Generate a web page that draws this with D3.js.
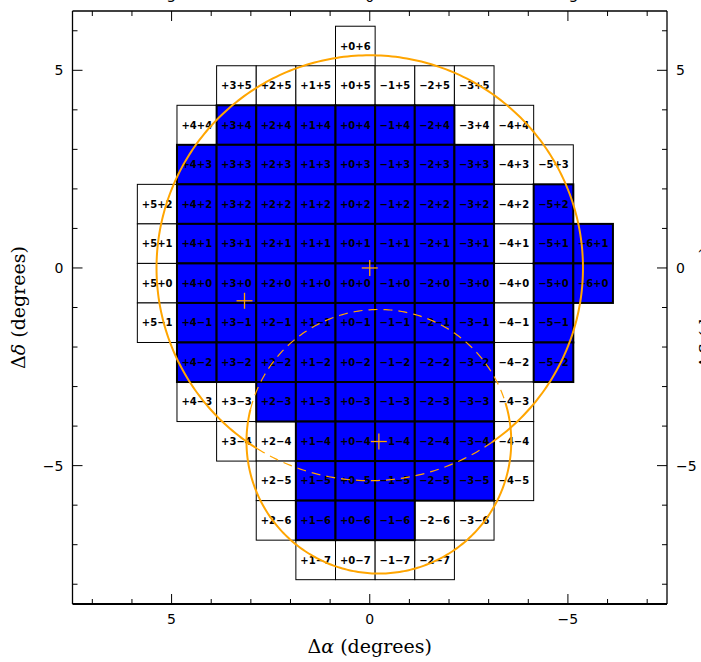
<!DOCTYPE html>
<html>
<head>
<meta charset="utf-8">
<script src="https://cdn.jsdelivr.net/npm/d3@7"></script>
<style>
  html, body { margin: 0; padding: 0; background: #fff; }
  svg { display: block; }
</style>
</head>
<body>
<svg id="chart" width="701" height="662"></svg>
<script>
// Survey tiles: row index (Δδ) and the first/last column index (Δα) in each row
const rowIndex    = [6, 5, 4, 3, 2, 1, 0, -1, -2, -3, -4, -5, -6, -7];
const rowFirstCol = [0, 3, 4, 4, 5, 5, 5, 5, 4, 4, 3, 2, 2, 1];
const rowLastCol  = [0, -3, -4, -5, -5, -6, -6, -5, -5, -4, -4, -4, -3, -2];
// Columns of the tiles already observed (filled) in each row
const rowFilledCols = [
  [],
  [],
  [3, 2, 1, 0, -1, -2],
  [4, 3, 2, 1, 0, -1, -2, -3],
  [4, 3, 2, 1, 0, -1, -2, -3, -5],
  [4, 3, 2, 1, 0, -1, -2, -3, -5, -6],
  [4, 3, 2, 1, 0, -1, -2, -3, -5, -6],
  [4, 3, 2, 1, 0, -1, -2, -3, -5],
  [4, 3, 2, 1, 0, -1, -2, -3, -5],
  [2, 1, 0, -1, -2, -3],
  [1, 0, -1, -2, -3],
  [1, 0, -1, -2, -3],
  [1, 0, -1],
  []
];

// Field circles: centre (Δα, Δδ) and radius, degrees
const circleCx = [0.0, -0.23];
const circleCy = [0.0, -4.39];
const circleR  = [5.38, 3.34];
// Position angle range (degrees) of the part of each circle lying inside the other field
const overlapFrom = [-125, 14];
const overlapTo   = [-58, 163];

// Pointing centres
const markAlpha = [0.0, 3.16, -0.23];
const markDelta = [0.0, -0.83, -4.39];

// Axis ticks
const majorTicks  = [-5, 0, 5];
const minorTicksX = d3.range(-7, 8);
const minorTicksY = d3.range(-8, 7);

// Tile geometry (degrees): tile (k, n) is a 1° square centred at (k + 0.364, n - 0.385)
const tileSide = 1.0;
const tileShift = [0.364, -0.385];

const W = 701, H = 662;
const plot = { left: 72.5, right: 667, top: 11, bottom: 604 };
const blue = "#0000ff";
const orange = "#ffa500";

const svg = d3.select("#chart");
svg.append("rect").attr("width", W).attr("height", H).attr("fill", "#fff");

const x = d3.scaleLinear().domain([7.5, -7.5]).range([plot.left, plot.right]);
const y = d3.scaleLinear().domain([-8.5, 6.5]).range([plot.bottom, plot.top]);

const signed = v => (v < 0 ? "\u2212" : "+") + Math.abs(v);
const tickFmt = v => (v < 0 ? "\u2212" + (-v) : String(v));

// Build the tile list
const tiles = [];
rowIndex.forEach((n, i) => {
  for (let k = rowFirstCol[i]; k >= rowLastCol[i]; k--) {
    tiles.push({ k, n, filled: rowFilledCols[i].includes(k) });
  }
});

const tileRect = sel => sel
  .attr("x", d => x(d.k + tileShift[0] + tileSide / 2))
  .attr("y", d => y(d.n + tileShift[1] + tileSide / 2))
  .attr("width", d => x(d.k + tileShift[0] - tileSide / 2) - x(d.k + tileShift[0] + tileSide / 2))
  .attr("height", d => y(d.n + tileShift[1] - tileSide / 2) - y(d.n + tileShift[1] + tileSide / 2));

const gTiles = svg.append("g");
gTiles.selectAll("rect.open")
  .data(tiles.filter(d => !d.filled))
  .join("rect").attr("class", "open")
  .call(tileRect)
  .attr("fill", "#fff").attr("stroke", "#000").attr("stroke-width", 1);

gTiles.selectAll("rect.done")
  .data(tiles.filter(d => d.filled))
  .join("rect").attr("class", "done")
  .call(tileRect)
  .attr("fill", blue).attr("stroke", "#000").attr("stroke-width", 2);

gTiles.selectAll("text")
  .data(tiles)
  .join("text")
  .attr("x", d => x(d.k + tileShift[0]))
  .attr("y", d => y(d.n + tileShift[1]))
  .attr("dy", "0.36em")
  .attr("text-anchor", "middle")
  .attr("font-family", "DejaVu Sans, sans-serif")
  .attr("font-weight", "bold")
  .attr("font-size", 10)
  .attr("fill", "#000")
  .text(d => signed(d.k) + signed(d.n));

// Circle arcs: solid outside the other field, dashed inside it
const arcLine = d3.line().x(p => x(p[0])).y(p => y(p[1]));
function arcPoints(i, a0, a1) {
  const steps = Math.max(8, Math.ceil(Math.abs(a1 - a0)));
  return d3.range(steps + 1).map(s => {
    const t = (a0 + (a1 - a0) * s / steps) * Math.PI / 180;
    return [circleCx[i] + circleR[i] * Math.cos(t), circleCy[i] + circleR[i] * Math.sin(t)];
  });
}
const gCircles = svg.append("g").attr("fill", "none");
circleCx.forEach((_, i) => {
  gCircles.append("path")
    .attr("d", arcLine(arcPoints(i, overlapTo[i], overlapFrom[i] + 360)))
    .attr("stroke", orange).attr("stroke-width", 2);
  gCircles.append("path")
    .attr("d", arcLine(arcPoints(i, overlapFrom[i], overlapTo[i])))
    .attr("stroke", orange).attr("stroke-width", 1.2)
    .attr("stroke-dasharray", "9,6");
});

// Pointing-centre crosses
const gMarks = svg.append("g").attr("stroke", orange).attr("stroke-width", 1.3);
markAlpha.forEach((a, i) => {
  const cx = x(a), cy = y(markDelta[i]);
  gMarks.append("line").attr("x1", cx - 8).attr("x2", cx + 8).attr("y1", cy).attr("y2", cy);
  gMarks.append("line").attr("x1", cx).attr("x2", cx).attr("y1", cy - 8).attr("y2", cy + 8);
});

// Frame and ticks
const gAxes = svg.append("g").attr("stroke", "#000");
gAxes.append("line").attr("x1", plot.left).attr("x2", plot.right).attr("y1", plot.top).attr("y2", plot.top).attr("stroke-width", 1.3);
gAxes.append("line").attr("x1", plot.left).attr("x2", plot.right).attr("y1", plot.bottom).attr("y2", plot.bottom).attr("stroke-width", 2.2);
gAxes.append("line").attr("x1", plot.left).attr("x2", plot.left).attr("y1", plot.top).attr("y2", plot.bottom).attr("stroke-width", 1.3);
gAxes.append("line").attr("x1", plot.right).attr("x2", plot.right).attr("y1", plot.top).attr("y2", plot.bottom).attr("stroke-width", 1.3);

const tickLen = v => (majorTicks.includes(v) ? 10 : 5);
minorTicksX.forEach(v => {
  const px = x(v);
  gAxes.append("line").attr("x1", px).attr("x2", px).attr("y1", plot.bottom).attr("y2", plot.bottom - tickLen(v)).attr("stroke-width", 1);
  gAxes.append("line").attr("x1", px).attr("x2", px).attr("y1", plot.top).attr("y2", plot.top + tickLen(v)).attr("stroke-width", 1);
});
minorTicksY.forEach(v => {
  const py = y(v);
  gAxes.append("line").attr("x1", plot.left).attr("x2", plot.left + tickLen(v)).attr("y1", py).attr("y2", py).attr("stroke-width", 1);
  gAxes.append("line").attr("x1", plot.right).attr("x2", plot.right - tickLen(v)).attr("y1", py).attr("y2", py).attr("stroke-width", 1);
});

// Tick labels on all four sides
const gLabels = svg.append("g")
  .attr("font-family", "DejaVu Sans, sans-serif")
  .attr("font-size", 14)
  .attr("fill", "#000");
majorTicks.forEach(v => {
  gLabels.append("text").attr("x", x(v)).attr("y", plot.bottom + 20).attr("text-anchor", "middle").text(tickFmt(v));
  gLabels.append("text").attr("x", x(v)).attr("y", plot.top - 9).attr("text-anchor", "middle").text(tickFmt(v));
  gLabels.append("text").attr("x", plot.left - 9).attr("y", y(v)).attr("dy", "0.36em").attr("text-anchor", "end").text(tickFmt(v));
  gLabels.append("text").attr("x", plot.right + 9).attr("y", y(v)).attr("dy", "0.36em").attr("text-anchor", "start").text(tickFmt(v));
});

// Axis titles
function title(sel, greek) {
  sel.attr("font-family", "DejaVu Serif, serif")
    .attr("font-size", 19)
    .attr("fill", "#000")
    .attr("text-anchor", "middle");
  sel.append("tspan").text("\u0394");
  sel.append("tspan").attr("font-style", "italic").text(greek);
  sel.append("tspan").text(" (degrees)");
}
const midX = (plot.left + plot.right) / 2;
const midY = (plot.top + plot.bottom) / 2;
svg.append("text").attr("x", midX).attr("y", 653).call(title, "\u03b1");
svg.append("text").attr("transform", `translate(25,${midY}) rotate(-90)`).call(title, "\u03b4");
svg.append("text").attr("transform", `translate(${plot.right + 46},${midY}) rotate(-90)`).call(title, "\u03b4");
</script>
</body>
</html>
